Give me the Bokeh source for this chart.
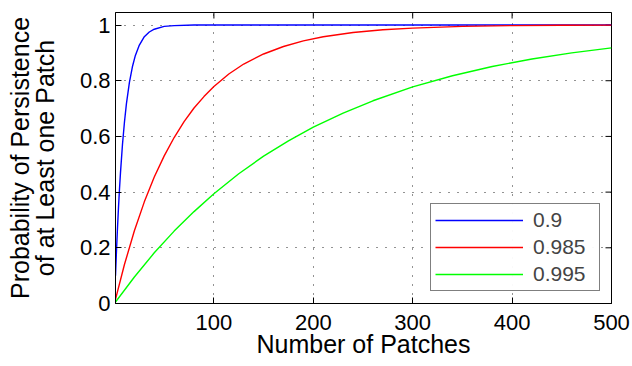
import math
from bokeh.plotting import figure
from bokeh.models import Range1d, FixedTicker, Legend, LegendItem
from bokeh.embed import file_html
from bokeh.resources import INLINE

# Number of patches (x) and probability of persistence (y)
n_09 = [1, 2, 3, 4, 5, 6, 8, 10, 12, 15, 18, 21, 25, 30, 35, 40, 50, 60, 80, 500]
p_09 = [0.1, 0.19, 0.271, 0.344, 0.41, 0.469, 0.57, 0.651, 0.718, 0.794, 0.85, 0.891,
        0.928, 0.958, 0.975, 0.985, 0.995, 0.998, 1.0, 1.0]

n_0985 = [1, 10, 20, 30, 40, 50, 60, 70, 80, 90, 100, 115, 130, 150, 170, 190, 210,
          240, 270, 300, 350, 400, 450, 500]
p_0985 = [0.015, 0.14, 0.261, 0.365, 0.454, 0.53, 0.596, 0.653, 0.702, 0.743, 0.779,
          0.824, 0.86, 0.896, 0.923, 0.943, 0.958, 0.973, 0.983, 0.989, 0.995, 0.998,
          0.999, 0.9995]

n_0995 = [1, 20, 40, 60, 80, 100, 125, 150, 175, 200, 230, 260, 300, 340, 380, 420, 460, 500]
p_0995 = [0.005, 0.095, 0.182, 0.26, 0.33, 0.394, 0.466, 0.529, 0.584, 0.633, 0.684,
          0.728, 0.778, 0.818, 0.851, 0.878, 0.9, 0.918]

series_labels = ["0.9", "0.985", "0.995"]
x_ticks = [100, 200, 300, 400, 500]
y_ticks = [0, 0.2, 0.4, 0.6, 0.8, 1.0]
x_min, x_max = 1, 500
y_min, y_max = 0, 1.045
x_title = "Number of Patches"
y_title = "Probability of Persistence\nof at Least one Patch"

FONT = "Liberation Sans"

p = figure(width=632, height=366, output_backend="svg", toolbar_location=None,
           x_range=Range1d(x_min, x_max), y_range=Range1d(y_min, y_max),
           min_border_left=115, min_border_right=21, min_border_top=12, min_border_bottom=63)

p.outline_line_color = "black"
p.outline_line_width = 1

for ax in (p.xaxis[0], p.yaxis[0]):
    ax.major_tick_in = 6
    ax.major_tick_out = 0
    ax.minor_tick_in = 0
    ax.minor_tick_out = 0
    ax.major_label_text_font = FONT
    ax.major_label_text_font_size = "22px"
    ax.major_label_text_color = "black"
    ax.axis_line_color = "black"
    ax.axis_label_text_font = FONT
    ax.axis_label_text_font_size = "25px"
    ax.axis_label_text_font_style = "normal"
    ax.axis_label_text_color = "black"

p.xaxis.ticker = FixedTicker(ticks=x_ticks)
p.yaxis.ticker = FixedTicker(ticks=y_ticks)
p.yaxis.major_label_overrides = {0: "0", 1: "1"}
p.xaxis.axis_label = x_title
p.yaxis.axis_label = y_title
p.yaxis.axis_label_text_line_height = 0.88
p.xaxis.major_label_standoff = 11
p.xaxis.axis_label_standoff = -3
p.yaxis.major_label_standoff = 5
p.yaxis.axis_label_standoff = 18

p.xgrid.ticker = FixedTicker(ticks=x_ticks)
p.ygrid.ticker = FixedTicker(ticks=y_ticks)
for g in (p.xgrid[0], p.ygrid[0]):
    g.grid_line_color = "black"
    g.grid_line_dash = "1 8"
    g.grid_line_width = 1
    g.grid_line_alpha = 0.85

# inward tick marks on the top and right edges of the box
p.scatter(x=x_ticks, y=[y_max] * len(x_ticks), marker="dash", angle=math.pi / 2,
          size=12, line_color="black", line_width=1)
p.scatter(x=[x_max] * len(y_ticks), y=y_ticks, marker="dash", angle=0,
          size=12, line_color="black", line_width=1)

r1 = p.line(n_09, p_09, line_color="#0000ff", line_width=1.4)
r2 = p.line(n_0985, p_0985, line_color="#ff0000", line_width=1.4)
r3 = p.line(n_0995, p_0995, line_color="#00ff00", line_width=1.4)

legend = Legend(items=[LegendItem(label=series_labels[0], renderers=[r1]),
                       LegendItem(label=series_labels[1], renderers=[r2]),
                       LegendItem(label=series_labels[2], renderers=[r3])],
                location=(315, 12))
legend.border_line_color = "black"
legend.border_line_width = 1
legend.background_fill_color = "white"
legend.label_text_font = FONT
legend.label_text_font_size = "21px"
legend.glyph_width = 88
legend.glyph_height = 24
legend.label_height = 24
legend.spacing = 3
legend.padding = 4
legend.margin = 0
legend.label_standoff = 10
legend.label_width = 62
p.add_layout(legend, "center")

open("out.html", "w").write(file_html(p, INLINE))
